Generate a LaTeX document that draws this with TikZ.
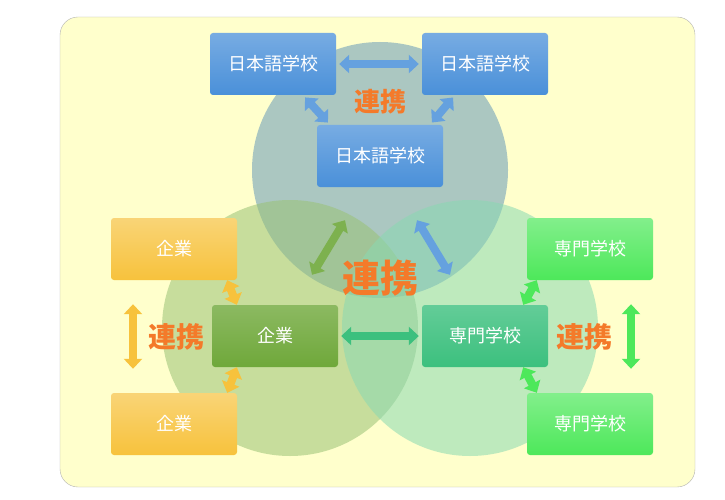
\documentclass[tikz,border=0pt]{standalone}
\usepackage{fontspec}
\setmainfont{Noto Sans CJK JP}
\usetikzlibrary{arrows.meta}
\definecolor{bgyel}{HTML}{FFFFCC}
\definecolor{jpblue}{HTML}{4A90D9}
\definecolor{kiorange}{HTML}{F7C23C}
\definecolor{kigreen}{HTML}{6FA83A}
\definecolor{sengreen}{HTML}{4DE85A}
\definecolor{senteal}{HTML}{3CC07E}
\definecolor{renkei}{HTML}{F47A2A}
\definecolor{circblue}{HTML}{8FB5BE}
\tikzset{
  box/.style={rectangle, rounded corners=3pt, minimum width=126pt, minimum height=62pt,
    text=white, font=\fontsize{18}{20}\selectfont},
  jpbox/.style={box, top color=jpblue!75, bottom color=jpblue},
  kibox/.style={box, top color=kiorange!70, bottom color=kiorange},
  kicbox/.style={box, top color=kigreen!80, bottom color=kigreen},
  senbox/.style={box, top color=sengreen!70, bottom color=sengreen},
  sencbox/.style={box, top color=senteal!80, bottom color=senteal},
  link/.style={line width=8pt, {Triangle[width=18pt,length=10pt]}-{Triangle[width=18pt,length=10pt]}, shorten <=3pt, shorten >=3pt},
  tag/.style={text=renkei, font=\bfseries}
}
\begin{document}
\begin{tikzpicture}[x=1pt,y=-1pt]
\useasboundingbox (0,0) rectangle (725,500);
\draw[gray!60, fill=bgyel, rounded corners=18pt] (60,17) rectangle (695,487);

% circles
\fill[fill=circblue, fill opacity=0.75] (380,170) circle (128);
\fill[fill=kigreen!70, fill opacity=0.55] (290,328) circle (128);
\fill[fill=senteal!60, fill opacity=0.55] (470,328) circle (128);

% nodes
\node[jpbox] (jptl) at (273,64) {日本語学校};
\node[jpbox] (jptr) at (485,64) {日本語学校};
\node[jpbox] (jpc) at (380,156) {日本語学校};
\node[kibox] (kitl) at (174,249) {企業};
\node[kicbox] (kic) at (275,336) {企業};
\node[kibox] (kibl) at (174,424) {企業};
\node[senbox] (sentr) at (590,249) {専門学校};
\node[sencbox] (senc) at (485,336) {専門学校};
\node[senbox] (senbr) at (590,424) {専門学校};

% labels
\node[tag, font=\bfseries\fontsize{26}{28}\selectfont] (tjp) at (380,102) {連携};
\node[tag, font=\bfseries\fontsize{38}{40}\selectfont] (tmid) at (380,278) {連携};
\node[tag, font=\bfseries\fontsize{28}{30}\selectfont] (tki) at (176,337) {連携};
\node[tag, font=\bfseries\fontsize{28}{30}\selectfont] (tsen) at (584,337) {連携};

% arrows
\draw[link, jpblue!85] (jptl.east) -- (jptr.west);
\draw[link, jpblue!85] ([xshift=30pt]jptl.south) -- ([xshift=-50pt]jpc.north);
\draw[link, jpblue!85] ([xshift=-30pt]jptr.south) -- ([xshift=50pt]jpc.north);
\draw[link, kigreen!90, shorten <=0pt, shorten >=0pt] ([shift={(-35,33)}]jpc.south) -- ([shift={(37,-30)}]kic.north);
\draw[link, jpblue!85, shorten <=0pt, shorten >=0pt] ([shift={(37,33)}]jpc.south) -- ([shift={(-35,-30)}]senc.north);
\draw[link, senteal] (kic.east) -- (senc.west);
\draw[link, kiorange, shorten <=0pt, shorten >=0pt] ([xshift=-10pt]kitl.south east) -- ([xshift=25pt]kic.north west);
\draw[link, kiorange, shorten <=0pt, shorten >=0pt] ([xshift=-10pt]kibl.north east) -- ([xshift=25pt]kic.south west);
\draw[link, kiorange, shorten <=24pt, shorten >=24pt] ([xshift=-41pt]kitl.south) -- ([xshift=-41pt]kibl.north);
\draw[link, sengreen, shorten <=0pt, shorten >=0pt] ([xshift=10pt]sentr.south west) -- ([xshift=-25pt]senc.north east);
\draw[link, sengreen, shorten <=0pt, shorten >=0pt] ([xshift=10pt]senbr.north west) -- ([xshift=-25pt]senc.south east);
\draw[link, sengreen, shorten <=24pt, shorten >=24pt] ([xshift=41pt]sentr.south) -- ([xshift=41pt]senbr.north);
\end{tikzpicture}
\end{document}
